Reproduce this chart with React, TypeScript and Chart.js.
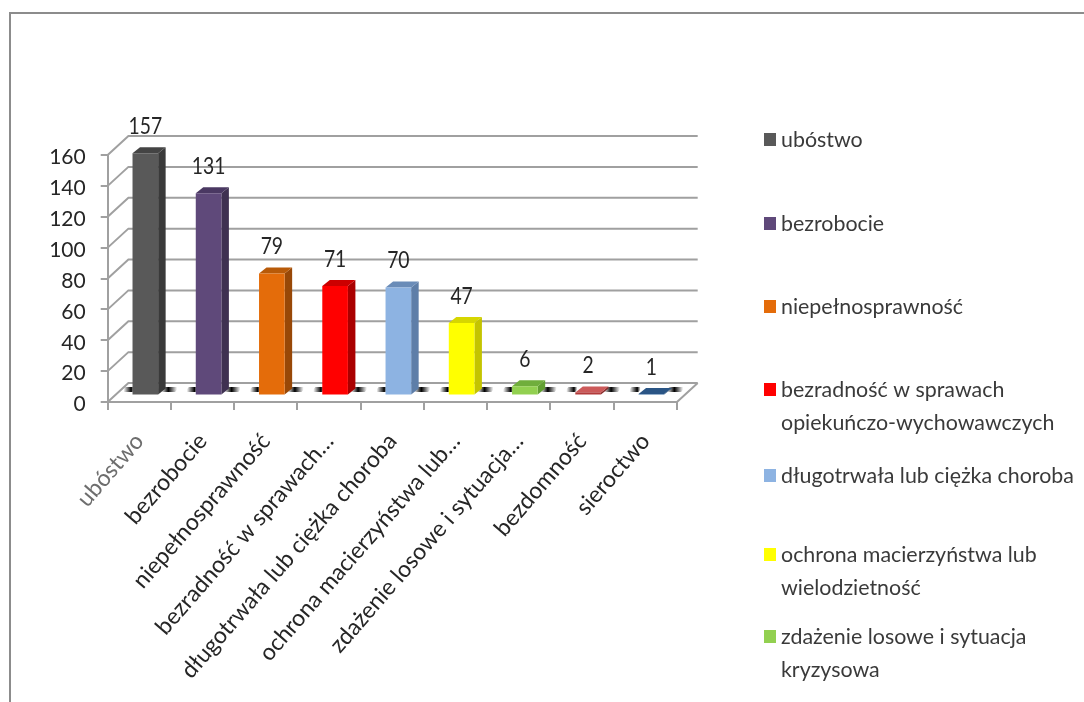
import React, { useEffect, useRef } from "react";
import { Chart, registerables } from "chart.js";

Chart.register(...registerables);

const categories = ["ubóstwo", "bezrobocie", "niepełnosprawność", "bezradność w sprawach…", "długotrwała lub ciężka choroba", "ochrona macierzyństwa lub…", "zdażenie losowe i sytuacja…", "bezdomność", "sieroctwo"];
const values = [157, 131, 79, 71, 70, 47, 6, 2, 1];
const frontColors = ["#595959", "#5f497a", "#e46c0a", "#ff0000", "#8db3e2", "#ffff00", "#92d050", "#b23b3b", "#2f6299"];
const sideColors = ["#3a3a3a", "#3f3151", "#984807", "#aa0000", "#5e7ea8", "#c4c400", "#62a032", "#8a2c2c", "#1f4468"];
const topColors = ["#444444", "#4a3862", "#b85a08", "#cc0000", "#6a8cb8", "#d6d600", "#70ae3c", "#cc5a5a", "#2a5585"];
const legendLines = [["ubóstwo"], ["bezrobocie"], ["niepełnosprawność"], ["bezradność w sprawach", "opiekuńczo-wychowawczych"], ["długotrwała lub ciężka choroba"], ["ochrona macierzyństwa lub", "wielodzietność"], ["zdażenie losowe i sytuacja", "kryzysowa"]];
const legendTops = [140, 224, 307, 390, 476, 555, 637];

const FONT = "Lato, 'Open Sans', sans-serif";
const GRID = "#a0a0a0";
const BACK_DX = 20.7;
const BACK_DY = 19;
const BAR_DX = 6;
const BAR_DY = 6.5;
const SIDE_DX = 7.5;
const SIDE_DY = 6;

function floorDash(ctx: any, x0: number, x1: number, peak: number, base: number) {
  const g = ctx.createLinearGradient(x0, 0, x1, 0);
  g.addColorStop(0, "rgba(0,0,0,0)");
  g.addColorStop(peak, "#000");
  g.addColorStop(1, "rgba(0,0,0,0)");
  ctx.fillStyle = g;
  ctx.beginPath();
  ctx.moveTo(x0 - 2, base - 10);
  ctx.lineTo(x1 - 2, base - 10);
  ctx.lineTo(x1 + 2, base - 15);
  ctx.lineTo(x0 + 2, base - 15);
  ctx.closePath();
  ctx.fill();
}

const wallsPlugin = {
  id: "walls",
  beforeDatasetsDraw(chart: any) {
    const { ctx, scales } = chart;
    const y = scales.y;
    const left = scales.x.left;
    const right = scales.x.right;
    ctx.save();
    ctx.strokeStyle = GRID;
    ctx.lineWidth = 2;
    y.ticks.forEach((t: any) => {
      const py = y.getPixelForValue(t.value);
      ctx.beginPath();
      ctx.moveTo(left, py);
      ctx.lineTo(left + BACK_DX, py - BACK_DY);
      ctx.lineTo(right + BACK_DX, py - BACK_DY);
      ctx.stroke();
    });
    const base = y.getPixelForValue(0);
    ctx.beginPath();
    ctx.moveTo(left, base);
    ctx.lineTo(right, base);
    ctx.lineTo(right + BACK_DX, base - BACK_DY);
    ctx.stroke();
    chart.getDatasetMeta(0).data.forEach((bar: any) => {
      const half = bar.width / 2;
      const l = bar.x - half + BAR_DX;
      const r = bar.x + half + BAR_DX;
      floorDash(ctx, l - 9, l + 2, 0.7, base);
      floorDash(ctx, r + 3, r + 19, 0.45, base);
    });
    ctx.restore();
  },
  beforeDatasetDraw(chart: any) {
    const { ctx } = chart;
    const meta = chart.getDatasetMeta(0);
    ctx.save();
    ctx.translate(BAR_DX, -BAR_DY);
    meta.data.forEach((bar: any, i: number) => {
      const half = bar.width / 2;
      const r = bar.x + half;
      const l = bar.x - half;
      ctx.fillStyle = sideColors[i];
      ctx.beginPath();
      ctx.moveTo(r, bar.y);
      ctx.lineTo(r + SIDE_DX, bar.y - SIDE_DY);
      ctx.lineTo(r + SIDE_DX, bar.base - SIDE_DY);
      ctx.lineTo(r, bar.base);
      ctx.closePath();
      ctx.fill();
      ctx.fillStyle = topColors[i];
      ctx.beginPath();
      ctx.moveTo(l, bar.y);
      ctx.lineTo(l + SIDE_DX, bar.y - SIDE_DY);
      ctx.lineTo(r + SIDE_DX, bar.y - SIDE_DY);
      ctx.lineTo(r, bar.y);
      ctx.closePath();
      ctx.fill();
    });
  },
  afterDatasetDraw(chart: any) {
    chart.ctx.restore();
  },
  afterDatasetsDraw(chart: any) {
    const { ctx } = chart;
    const meta = chart.getDatasetMeta(0);
    meta.data.forEach((bar: any, i: number) => {
      ctx.save();
      ctx.fillStyle = "#262626";
      ctx.font = `23px ${FONT}`;
      ctx.textAlign = "center";
      ctx.textBaseline = "middle";
      ctx.translate(bar.x + BAR_DX, bar.y - 33);
      ctx.scale(0.84, 1);
      ctx.fillText(String(values[i]), 0, 0);
      ctx.restore();
    });
  },
};

const framePlugin = {
  id: "frame",
  beforeDraw(chart: any) {
    const { ctx, width, height } = chart;
    ctx.save();
    ctx.fillStyle = "#ffffff";
    ctx.fillRect(0, 0, width, height);
    ctx.strokeStyle = "#8c8c8c";
    ctx.lineWidth = 2;
    ctx.beginPath();
    ctx.moveTo(10, height);
    ctx.lineTo(10, 13);
    ctx.lineTo(width, 13);
    ctx.stroke();
    ctx.restore();
  },
};

const legendPlugin = {
  id: "sideLegend",
  afterDraw(chart: any) {
    const { ctx } = chart;
    ctx.save();
    ctx.font = `21.4px ${FONT}`;
    ctx.textBaseline = "middle";
    legendLines.forEach((lines, i) => {
      const top = legendTops[i];
      ctx.fillStyle = frontColors[i];
      ctx.fillRect(764, top - 7, 12, 13);
      ctx.fillStyle = "#3a3a3a";
      lines.forEach((line, j) => ctx.fillText(line, 781, top + j * 33));
    });
    ctx.restore();
  },
};

export default function App() {
  const ref = useRef<HTMLCanvasElement | null>(null);
  useEffect(() => {
    const chart = new Chart(ref.current as HTMLCanvasElement, {
      type: "bar",
      data: {
        labels: categories,
        datasets: [{ data: values, backgroundColor: frontColors, barPercentage: 0.405, categoryPercentage: 1, borderWidth: 0, clip: false as any }],
      },
      options: {
        responsive: false,
        animation: false,
        layout: { padding: { top: 155, right: 407, left: 0, bottom: 0 } },
        plugins: { legend: { display: false }, tooltip: { enabled: false } },
        scales: {
          x: {
            afterFit(s: any) {
              s.height = 300;
              s.paddingLeft = 0;
              s.paddingRight = 0;
            },
            grid: { offset: true, drawOnChartArea: false, drawTicks: true, tickLength: 8, color: GRID, lineWidth: 2 },
            border: { color: GRID, width: 2 },
            ticks: {
              autoSkip: false,
              minRotation: 49,
              maxRotation: 49,
              padding: 18,
              labelOffset: 0,
              color: (c: any) => (c.index === 0 ? "#6e6e6e" : "#262626"),
              font: { family: FONT, size: 23 },
            },
          },
          y: {
            min: 0,
            max: 160,
            afterFit(s: any) {
              s.width = 107.7;
            },
            grid: { drawOnChartArea: false, drawTicks: true, tickLength: 7, color: GRID, lineWidth: 2 },
            border: { color: GRID, width: 2 },
            ticks: { stepSize: 20, padding: 15, labelOffset: 2.5, color: "#262626", font: { family: FONT, size: 21 } },
          },
        },
      },
      plugins: [framePlugin, wallsPlugin, legendPlugin],
    });
    return () => chart.destroy();
  }, []);
  return <canvas ref={ref} width={1084} height={702} style={{ position: "fixed", left: 0, top: 0 }} />;
}
